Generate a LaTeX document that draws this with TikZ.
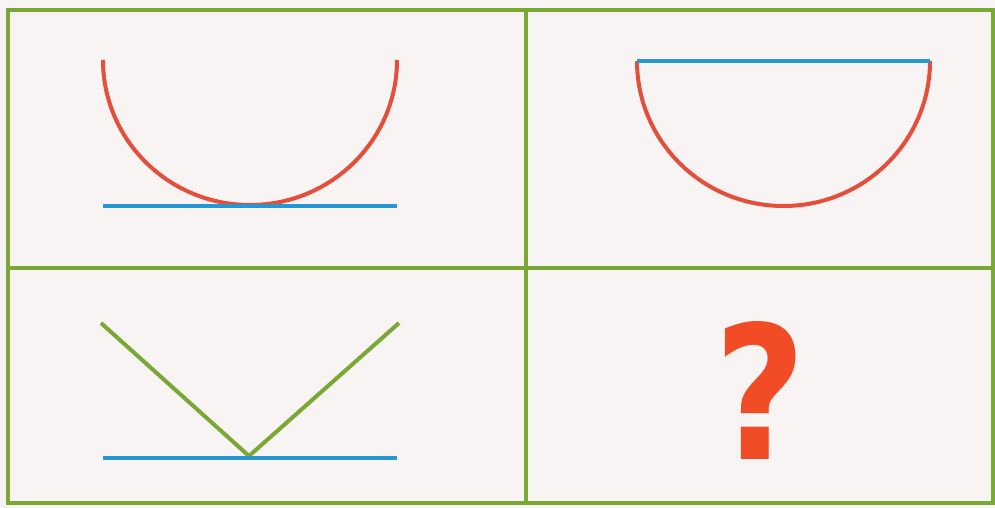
\documentclass[tikz,border=0pt]{standalone}
\usepackage{fontspec}
\newfontfamily\qfont{DejaVu Sans}
\definecolor{framegreen}{RGB}{122,168,52}
\definecolor{arcred}{RGB}{228,78,58}
\definecolor{lineblue}{RGB}{38,150,212}
\definecolor{qred}{RGB}{242,76,38}
\definecolor{paper}{RGB}{247,244,243}
\tikzset{
  frame/.style={framegreen, line width=4pt},
  curve/.style={arcred, line width=4pt},
  base/.style={lineblue, line width=4pt},
  vee/.style={framegreen, line width=4pt, line join=round},
}
\begin{document}
\begin{tikzpicture}[x=1pt, y=-1pt]
    \fill[paper] (0,0) rectangle (995,508);
    \useasboundingbox (0,0) rectangle (995,508);

    % grid
    \draw[frame] (8,10) rectangle (993,503);
    \draw[frame] (526,10) -- (526,503);
    \draw[frame] (8,268) -- (993,268);

    % top left: cup on a line
    \coordinate (tlA) at (103,206);
    \coordinate (tlB) at (397,206);
    \draw[curve] (103,60) arc[start angle=180, end angle=360, x radius=147, y radius=-145];
    \draw[base] (tlA) -- (tlB);

    % top right: half disc under a line
    \coordinate (trA) at (637,61);
    \coordinate (trB) at (930,61);
    \draw[curve] (trA) arc[start angle=180, end angle=360, x radius=146.5, y radius=-145];
    \draw[base] (trA) -- (trB);

    % bottom left: V on a line
    \coordinate (vL) at (101,323);
    \coordinate (vM) at (249,456);
    \coordinate (vR) at (399,323);
    \coordinate (blA) at (103,458);
    \coordinate (blB) at (397,458);
    \draw[vee] (vL) -- (vM) -- (vR);
    \draw[base] (blA) -- (blB);

    % bottom right
    \node[qred, xscale=0.85, font=\qfont\bfseries\fontsize{186}{186}\selectfont] (q) at (760,390) {?};
\end{tikzpicture}
\end{document}
